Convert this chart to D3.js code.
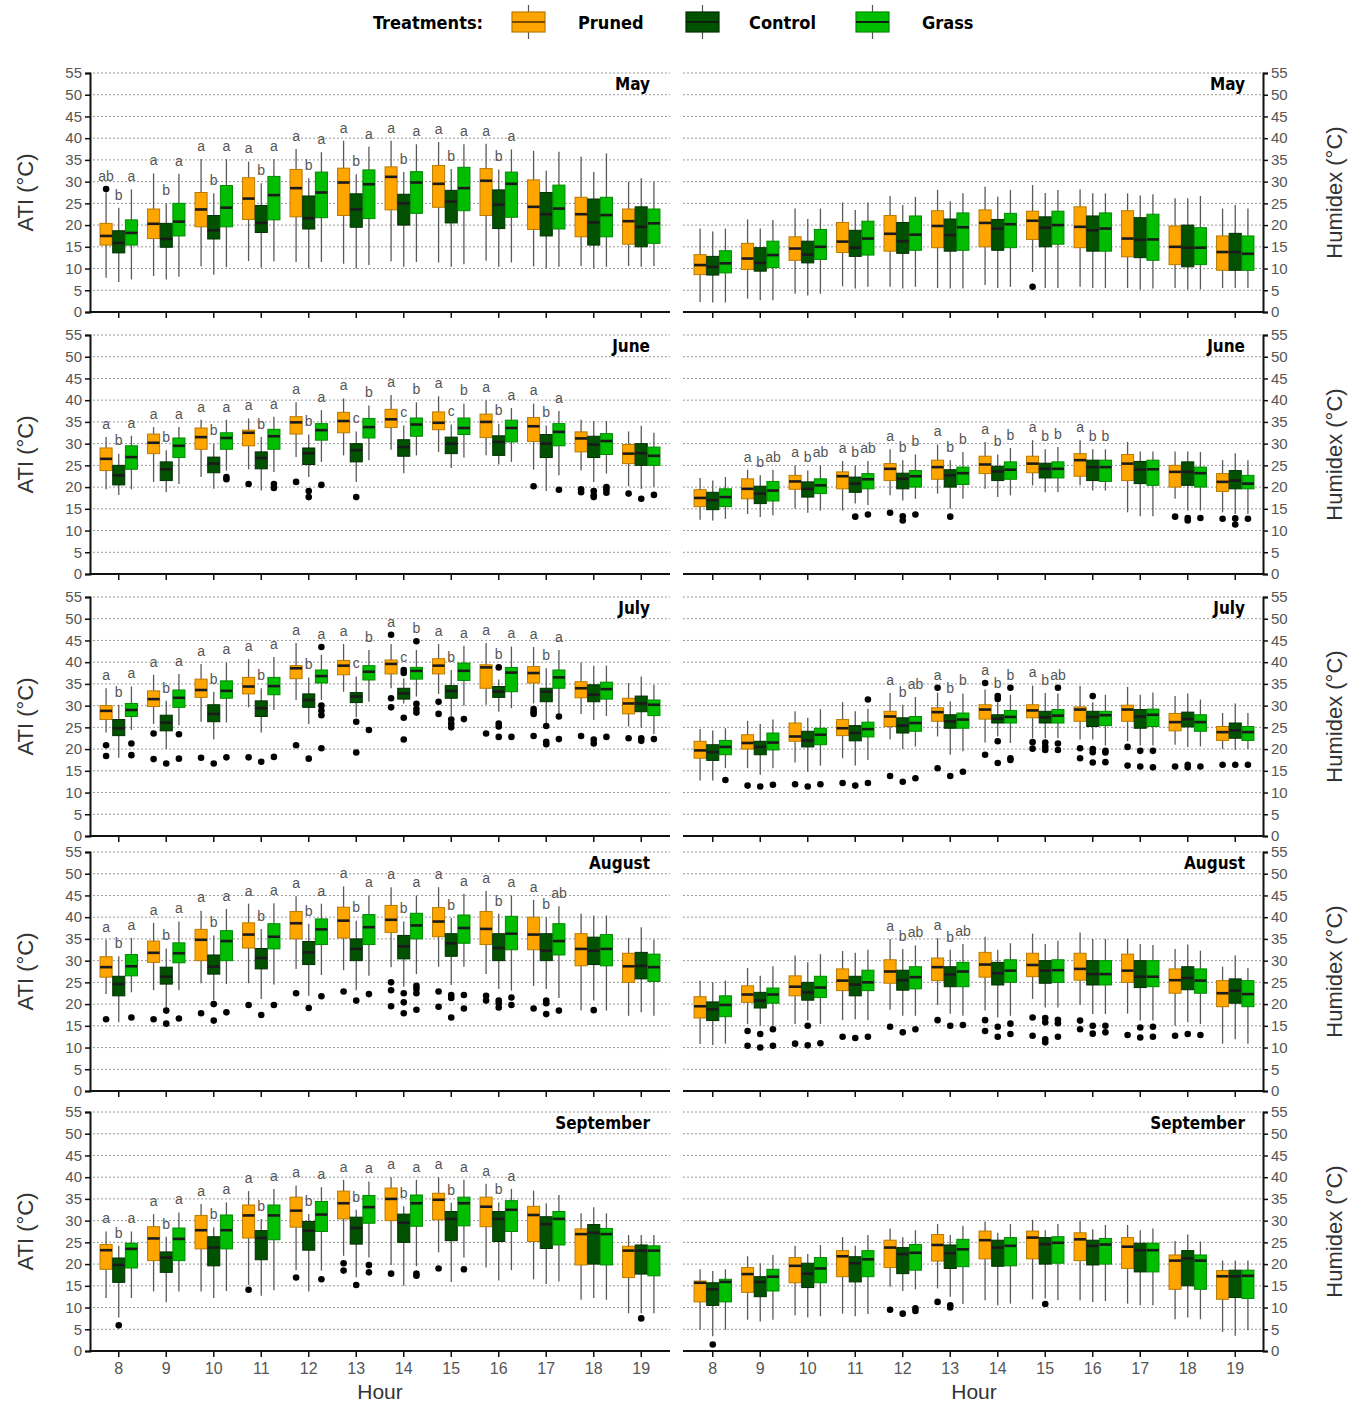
<!DOCTYPE html>
<html>
<head>
<meta charset="utf-8">
<script src="https://cdn.jsdelivr.net/npm/d3@7"></script>
<style>
  body { margin: 0; background: #fff; }
  svg { font-family: "Liberation Sans", Arial, sans-serif; }
</style>
</head>
<body>
<div id="chart"></div>
<script>
const hours = [8, 9, 10, 11, 12, 13, 14, 15, 16, 17, 18, 19];
const treatments = ['Pruned', 'Control', 'Grass'];
const months = ['May', 'June', 'July', 'August', 'September'];

// each row: [low whisker, Q1, median, Q3, high whisker], one row per hour 8..19
// outliers: [hour, treatment index, value]
// letters: 'P C G' per hour, '' when no test letters

// ---- May ----
const mayAtiPruned = [[7.9,15.4,17.5,20.4,27.5],[8.3,16.9,20.3,23.7,31.9],[10.5,19.6,23.6,27.5,35.2],[11.7,21.3,26.1,30.9,34.6],[11.5,21.9,28.5,32.8,37.5],[11.1,22.2,29.8,33.1,39.4],[11.7,23.5,31.1,33.4,39.4],[11.4,24.1,29.5,33.7,39.1],[11.8,22.2,30.2,33,38.7],[10.5,19,24.2,30.4,37.1],[10.6,17.3,22.5,26.4,35.8],[10.6,15.6,20.9,23.7,30]];
const mayAtiControl = [[6.9,13.6,15.9,18.7,24],[7.5,14.9,16.8,20.4,25],[8.6,16.8,18.8,22.2,27.3],[10.2,18.3,20.5,24.5,29.6],[10,19.1,21.6,26.7,30.8],[10,19.5,23.6,27.2,31.7],[10.4,20,25,27.1,32.2],[10.4,20.5,25.4,28,32.9],[10.4,19.2,24.7,28.1,32.8],[10,17.5,22.5,27.5,32.5],[10,15.4,20.6,26,32.2],[10.4,15,19.6,24.2,30.8]];
const mayAtiGrass = [[7.5,15.4,18.2,21.2,28.2],[8.1,17.5,20.8,25,31.8],[10.3,19.6,24,29.1,35.2],[11.7,21.2,26.9,31.2,35.2],[11.5,21.7,27.5,32.2,36.8],[10.8,21.5,29.4,32.7,38],[11.5,22.7,29.8,32.3,38.6],[11,23.3,28.5,33.3,38.6],[11.4,21.8,29.5,32.2,37.4],[10.4,19.1,23.8,29.2,36.9],[10.4,17.3,22.3,26.4,36.5],[10.6,15.8,20.4,23.7,30]];
const mayAtiOut = [[8,0,28.3]];
const mayAtiLetters = ['ab b a','a b a','a b a','a b a','a b a','a b a','a b a','a b a','a b a','','',''];

const mayHumPruned = [[2.3,8.6,10.8,13.2,19.2],[3.1,9.8,12.3,15.8,21.3],[4.2,11.9,14.6,17.3,23.8],[5.9,13.7,16.2,20.6,25.2],[5.8,14,18,22.2,26.7],[5.5,14.8,19.8,23.3,28.1],[6.2,15,20.5,23.5,28.8],[9.2,16.7,21,23.2,29.2],[5.8,14.8,19.6,24.2,28.2],[5.5,12.7,16.9,23.3,27.3],[5.5,10.9,15,19.8,26.2],[5.5,9.6,13.8,17.5,23.8]];
const mayHumControl = [[2.2,8.5,10.4,12.8,18.5],[2.7,9.4,11.3,14.8,19.2],[3.8,11.3,13.2,16.3,21.4],[5.4,12.8,14.8,18.8,23.5],[5.4,13.5,16.3,20.6,24.6],[5.4,14,17.7,21.4,25.5],[5.5,14.2,19.2,21.3,26.5],[5.5,15,19.4,21.9,27.4],[5.5,14,18.8,22.1,27.3],[5.2,12.5,16.6,21.7,26.8],[5.2,10.4,14.8,20,26.2],[5.5,9.6,13.8,18.1,24.6]];
const mayHumGrass = [[2.2,9,11.2,14.1,19.2],[2.7,10.2,13.1,16.3,21.2],[4.2,12.1,15,19,23.8],[5.8,13.1,16.9,20.9,25.2],[5.8,14.2,17.8,22.1,26.5],[5.4,14.2,19.5,22.8,27.3],[5.8,14.8,20.2,22.7,28.1],[5.5,15.6,20,23.2,28.1],[5.5,14,19.2,22.8,27.3],[5.4,11.9,16.7,22.5,27.1],[5.2,10.9,14.8,19.4,26.7],[5.5,9.6,13.4,17.5,23.8]];
const mayHumOut = [[15,0,5.8]];
const mayHumLetters = ['','','','','','','','','','','',''];

// ---- June ----
const juneAtiPruned = [[19.5,23.8,26.5,29,31.5],[21.2,27.7,30.2,32.2,33.8],[22.3,28.7,31.5,33.6,35.5],[24.1,29.5,32.5,33.1,35.8],[26.9,32.2,34.9,36.2,39.5],[27.3,32.5,35.2,37.2,40.4],[28.6,33.7,35.6,37.9,41.2],[28.1,33.2,34.8,37.3,40.9],[27.3,31.4,35,36.8,40],[24,30.5,34,36,39.2],[23.8,28.1,31.2,32.7,35.5],[20.2,25.4,27.7,29.8,32.8]];
const juneAtiControl = [[18.2,20.5,22.7,25,27.7],[18.8,21.5,24.1,25.8,28.5],[19.6,23.3,25.4,26.9,30],[19.2,24.2,26.7,28.1,31.5],[22.3,25.2,27.8,29,32.1],[21.2,25.8,28.5,30,32.8],[23.2,27.1,29.2,30.9,34.2],[24.4,27.7,30,31.5,34.4],[25.2,27.3,30.4,31.8,34.6],[19.1,26.8,30,32.1,34.2],[21.2,26.8,29.8,31.7,35.2],[19.6,25,27.8,30,34.1]];
const juneAtiGrass = [[19.5,24.1,26.9,29.5,31.8],[20.7,26.8,29.5,31.3,33.8],[23.8,28.7,31.3,32.5,35.5],[23.5,28.7,31.7,33.3,36.2],[25.8,30.8,33.1,34.6,37.7],[26.2,31.3,33.8,35.8,38.8],[27.3,31.7,34.4,35.9,39.5],[26.8,32.1,33.6,35.9,39.2],[25.8,30.4,33.6,35.4,38.2],[22.7,29.5,32.7,34.6,37.5],[23.1,27.5,30.6,32.3,35.2],[20,25,27.2,29.2,32.5]];
const juneAtiOut = [[10,2,22.3],[10,2,21.8],[11,0,20.7],[11,2,20.7],[11,2,19.8],[12,0,21.2],[12,1,19.1],[12,1,17.7],[12,2,20.5],[13,1,17.7],[17,0,20.2],[17,2,19.4],[18,0,19.5],[18,0,18.8],[18,1,19.1],[18,1,18.1],[18,1,17.7],[18,2,20],[18,2,19.5],[18,2,18.7],[19,0,18.5],[19,1,17.3],[19,2,18.2]];
const juneAtiLetters = ['a b a','a b a','a b a','a b a','a b a','a c b','a c b','a c b','a b a','a b a','',''];

const juneHumPruned = [[12.5,15.5,17.5,19.4,22.1],[13.8,17.3,19.6,21.9,24],[15,19.5,21.3,22.7,25],[14.6,19.6,22.5,23.5,26],[18.1,21.5,24.2,25.4,28.7],[18.5,21.8,24.6,26.2,29.8],[19.6,23.1,25.2,27.1,30.4],[20.4,23.3,25.4,27.1,30.8],[20.4,22.5,26.2,27.7,30.8],[14.2,21.5,25.4,27.5,30.4],[17.3,20,23.5,25,28.2],[14.2,19,21.2,23.1,26.2]];
const juneHumControl = [[12.3,14.8,17,18.8,21.5],[13.1,16.2,18.5,20.2,22.7],[14.1,17.7,19.6,21.2,23.8],[16.2,18.8,20.8,22.3,25],[16.9,19.6,21.9,23.2,26.2],[15,20,22.7,24,26.2],[17.7,21.5,23.6,24.8,27.5],[18.8,22.1,24.2,25.5,28.7],[19.2,21.5,24.6,26.2,28.7],[13.3,20.8,24,25.9,28.2],[14.6,20.4,23.5,25.8,28.2],[13.8,19.6,21.5,23.8,27.8]];
const juneHumGrass = [[12.7,15.5,17.7,19.6,22.3],[13.5,16.8,19.2,21.3,24],[14.6,18.5,20.4,21.9,25],[15.9,19.6,21.8,23.1,26],[17.3,20,22.5,23.8,27.5],[17.3,20.6,23.2,24.6,28.1],[18.1,21.8,24,25.8,29],[18.8,22.1,24.2,25.8,29.2],[19.2,21.3,24.6,26.2,28.7],[13.3,20.4,24.1,26.2,28.2],[14.6,20,23.2,24.6,28.1],[13.8,19.6,20.8,22.7,26.2]];
const juneHumOut = [[11,1,13.2],[11,2,13.7],[12,0,14.1],[12,1,13.3],[12,1,12.3],[12,2,13.7],[13,1,13.2],[18,0,13.2],[18,1,12.9],[18,1,12.3],[18,2,12.9],[19,0,12.7],[19,1,12.8],[19,1,11.4],[19,2,12.7]];
const juneHumLetters = ['','a b ab','a b ab','a b ab','a b b','a b b','a b b','a b b','a b b','','',''];

// ---- July ----
const julyAtiPruned = [[23.8,26.8,28.8,30,34],[25.8,29.8,31.5,33.4,37.1],[26.3,31.9,33.6,36.1,39.6],[29.6,32.7,34.4,36.5,40.7],[31.3,36.2,38.6,39.2,44.4],[33.2,37.1,39.2,40.4,44.2],[34,37.3,39.6,40.5,44.2],[32.7,37.3,39.2,40.8,44.2],[30.2,34,38.8,39.4,44.4],[30.5,35.2,37.5,39,43.5],[28.1,31.8,34,35.5,39.9],[25.2,28.1,30.5,31.7,35.2]];
const julyAtiControl = [[18,23.1,24.8,26.8,30.2],[20,24.2,26.1,27.8,31.1],[22.2,26.3,28.1,30.2,33.2],[23.8,27.5,29.4,31.1,34],[25.8,29.6,31.3,32.7,36.5],[27.3,30.7,32.1,33,36.7],[30.5,31.5,32.8,34,36.3],[27.6,31.7,33.4,34.6,38.2],[28.6,31.9,33.2,34.4,36],[25.9,30.9,33.2,34,38.6],[26.7,30.9,32.5,34.8,39.2],[24.9,28.6,30.5,32.2,36.7]];
const julyAtiGrass = [[24.4,27.5,29,30.5,34.4],[25.5,29.6,31.8,33.6,37.3],[26.1,31.7,33.4,35.7,39.9],[29,32.5,34.5,36.5,41.2],[31.3,35.2,36.8,38.2,41.7],[30.9,35.9,37.8,39.2,42.8],[32.1,36.1,38,38.8,42.8],[30,35.8,38,39.8,43.8],[29.4,33.2,37.6,38.8,43.6],[28.2,34,36.5,38.2,42.8],[27.6,31.5,33.8,35.4,39.2],[23.5,27.7,30.2,31.3,34.8]];
const julyAtiOut = [[8,0,20.9],[8,0,18.4],[8,2,21.3],[8,2,18.6],[9,0,23.6],[9,0,17.7],[9,1,16.7],[9,2,23.4],[9,2,17.8],[10,0,18],[10,1,16.7],[10,2,18.1],[11,0,18.1],[11,1,17.1],[11,2,18.2],[12,0,20.9],[12,1,17.8],[12,2,43.5],[12,2,30],[12,2,28.8],[12,2,27.8],[12,2,20.2],[13,1,26.3],[13,1,19.2],[13,2,24.4],[14,0,46.3],[14,0,31.7],[14,0,29.6],[14,1,38.2],[14,1,37.5],[14,1,27.2],[14,1,22.2],[14,2,44.8],[14,2,30.4],[14,2,29.2],[14,2,28.4],[15,0,30.9],[15,0,28.1],[15,1,26.8],[15,1,25.9],[15,1,25],[15,2,26.9],[16,0,23.6],[16,1,38.8],[16,1,25.9],[16,1,25.2],[16,1,22.8],[16,2,22.8],[17,0,29.2],[17,0,28.6],[17,0,28.1],[17,0,23],[17,1,25.3],[17,1,21.7],[17,1,21.1],[17,2,27.5],[17,2,22.3],[18,0,23],[18,1,22.2],[18,1,21.3],[18,2,22.8],[19,0,22.5],[19,1,22.5],[19,1,21.9],[19,2,22.3]];
const julyAtiLetters = ['a b a','a b a','a b a','a b a','a b a','a c b','a c b','a b a','a b a','a b a','',''];

const julyHumPruned = [[12.8,17.9,19.7,21.8,24.6],[15.6,20,21.4,23.3,26.5],[16.9,21.8,22.9,26,28.7],[17.9,23.1,24.8,26.8,30.8],[22.2,25.2,27.5,28.7,32.9],[22.9,26.4,28.5,29.5,33],[21.5,26.9,29.1,30.2,33.7],[22.5,27.2,28.9,30.2,34.6],[22.2,26.4,29.1,29.7,34.5],[21.8,26.4,29.1,30.1,34.3],[21,24.2,26.2,28.2,32.2],[20,22,23.9,25.2,28.3]];
const julyHumControl = [[12.8,17.4,19.3,21,24.3],[14.1,18.7,20.5,21.8,25.8],[14.8,20.5,22,24.1,27.2],[16.2,21.9,23.7,25.4,28.7],[20,23.7,25.4,27.2,30.2],[18.7,24.8,26.4,27.9,31],[22.9,26,27,27.9,30.6],[22.5,26,27.3,28.7,32.9],[22.2,25.2,27.4,28.7,30.8],[20.8,24.8,27.5,29.1,32.5],[20.5,25.1,26.9,28.5,32.8],[19.8,22.5,24.3,26,30.5]];
const julyHumGrass = [[15.6,18.7,20.5,22,24.8],[15.6,19.8,21.5,23.7,26.8],[16.2,21,23.3,24.8,29.2],[17.5,22.8,24.6,26.2,29.3],[20.6,24.1,26,27.5,32],[19.5,24.8,26.8,28.3,32.8],[21.4,26,27.4,28.9,32.5],[22.5,26,27.7,29.1,32.8],[20.8,25.4,27.8,28.7,32.5],[20.8,25.2,27.9,29.2,33],[20.6,24.1,26.2,27.9,31.4],[20,22,23.9,25.2,28.3]];
const julyHumOut = [[8,2,12.9],[9,0,11.6],[9,1,11.4],[9,2,11.8],[10,0,11.9],[10,1,11.4],[10,2,11.9],[11,0,12.2],[11,1,11.6],[11,2,31.4],[11,2,12.2],[12,0,13.8],[12,1,12.5],[12,2,13.3],[13,0,34.1],[13,0,15.6],[13,1,13.8],[13,2,14.8],[14,0,35.2],[14,0,18.7],[14,1,32.2],[14,1,31.5],[14,1,21.8],[14,1,16.8],[14,2,34.1],[14,2,17.9],[14,2,17.5],[15,0,21.6],[15,0,20.1],[15,1,21.5],[15,1,20.6],[15,1,19.8],[15,2,34.1],[15,2,21.3],[15,2,19.8],[16,0,20.2],[16,0,17.9],[16,1,32.2],[16,1,20],[16,1,19.3],[16,1,16.9],[16,2,19.6],[16,2,19.2],[16,2,17],[17,0,20.5],[17,0,16.2],[17,1,19.6],[17,1,16],[17,2,19.6],[17,2,15.8],[18,0,16],[18,1,16.4],[18,1,15.8],[18,2,16],[19,0,16.4],[19,1,16.4],[19,2,16.4]];
const julyHumLetters = ['','','','','a b ab','a b b','a b b','a b ab','','','',''];

// ---- August ----
const augAtiPruned = [[22.3,26.2,28.5,30.9,34.8],[23.2,29.6,31.8,34.5,38.7],[24.8,30,34.8,37.2,41.5],[24.8,32.9,36,38.7,43.1],[28.1,35,38.6,41.3,44.8],[27.8,35.2,39.2,42.3,47.1],[28.5,36.5,39.4,42.7,46.9],[28.6,35.5,39,42.2,46.9],[26.9,33.7,37.3,41.3,46],[24.2,32.5,36,40,44],[18.5,28.8,32.7,36.2,40.8],[17.3,25,28.7,31.7,35.2]];
const augAtiControl = [[15.8,21.9,24.6,26.4,31],[19.2,24.6,26.3,28.5,32.8],[20.8,26.9,28.6,31.3,35.8],[21.2,28.1,30.6,32.8,37.3],[21.9,29.1,31.9,34.4,38.5],[23.2,30,32.7,35,39.2],[24,30.4,33.3,35.8,39],[24.4,31,34,36.2,39.8],[23.5,30,32.9,36.2,40.8],[23.5,30,32.3,36.2,40],[20.8,29.1,32.3,35.4,40.4],[18.1,25.8,28.8,31.9,37.7]];
const augAtiGrass = [[22.7,26.5,28.7,31.4,35.2],[23.2,29.5,31.7,34.1,39],[24.6,30,34.5,36.9,41.9],[24.5,32.7,35.5,38.5,43.2],[26.7,33.7,37.2,39.6,43.1],[26.5,33.7,37.7,40.6,45],[26.9,35,38.1,40.9,45],[28.6,34,37.5,40.5,45.4],[23.1,32.5,36.2,40.2,45],[21.4,31.3,34.5,38.5,42.5],[18.5,28.8,32.7,36,40.4],[17.3,25.2,28.5,31.5,34.8]];
const augAtiOut = [[8,0,16.5],[8,2,16.9],[9,0,16.5],[9,1,18.5],[9,1,15.5],[9,2,16.7],[10,0,17.9],[10,1,20],[10,1,16.2],[10,2,18.1],[11,0,19.8],[11,1,17.5],[11,2,19.8],[12,0,22.5],[12,1,19.1],[12,2,21.8],[13,0,22.9],[13,1,20.8],[13,2,22.3],[14,0,25],[14,0,23.2],[14,0,19.5],[14,1,22.5],[14,1,20.4],[14,1,17.9],[14,2,24.2],[14,2,23.5],[14,2,22.5],[14,2,18.7],[15,0,22.9],[15,0,19.4],[15,1,22.1],[15,1,21.4],[15,1,16.9],[15,2,22.1],[15,2,19],[16,0,21.9],[16,0,20.8],[16,1,20.8],[16,1,20.2],[16,1,19.2],[16,2,21.5],[16,2,19.8],[17,0,19],[17,1,20.8],[17,1,20.2],[17,1,17.7],[17,2,18.5],[18,1,18.6]];
const augAtiLetters = ['a b a','a b a','a b a','a b a','a b a','a b a','a b a','a b a','a b a','a b ab','',''];

const augHumPruned = [[10.8,16.8,19.5,21.7,25.4],[15.4,20.4,22.2,24.2,28.3],[15.4,21.9,24,26.5,31.2],[16.3,23.1,25.4,28.1,32.2],[18.7,24.8,27.5,30.2,35],[19.8,25.4,28.5,30.6,35.2],[18.5,26.2,29.1,31.9,35.5],[21.2,26.3,29,31.7,36.2],[19.8,25.5,28.1,31.7,36.5],[17.8,25,27.7,31.5,35],[15,22.5,25.5,28.1,32.7],[10.9,19.4,22.5,25.4,28.6]];
const augHumControl = [[10.6,16.2,18.8,20.5,25],[15,19.1,20.8,22.7,26.5],[16.2,20.9,22.7,25,29.6],[16.5,21.9,24.5,26.4,31.8],[17.3,23.2,25.5,27.8,32.7],[17.8,24,26.8,28.6,32.5],[16.9,24.4,27.1,29.6,32.5],[19.2,24.8,27.7,30,33.8],[17.7,24.4,26.9,30,35],[16.2,23.8,26.3,30,33.8],[15.8,23.3,26,28.6,33.7],[11.9,20.2,23.1,25.8,31.2]];
const augHumGrass = [[10.9,17.1,19.8,21.9,25.4],[15,20.2,22.2,23.7,28.7],[15.4,21.5,23.8,26.4,31.5],[16.3,23.1,25,27.8,32.5],[17.3,23.5,26.2,28.6,33.5],[17.3,24,27.5,29.6,33.8],[17.3,25,27.7,30.2,34],[19.2,25,27.8,30.2,34.6],[17.7,24.4,26.9,30,35],[16.2,24,26.3,30,33.6],[15.4,22.5,25.4,28.1,32.3],[10.9,19.4,22.3,25.4,28.3]];
const augHumOut = [[9,0,13.8],[9,0,10.4],[9,1,13.1],[9,1,10],[9,2,14.2],[9,2,10.4],[10,0,10.9],[10,1,15],[10,1,10.5],[10,2,11],[11,0,12.5],[11,1,12.2],[11,2,12.5],[12,0,14.8],[12,1,13.5],[12,2,14.2],[13,0,16.3],[13,1,15],[13,2,15.2],[14,0,16.3],[14,0,13.8],[14,1,14.8],[14,1,12.5],[14,2,15.5],[14,2,13.1],[15,0,16.9],[15,0,12.7],[15,1,16.8],[15,1,15.8],[15,1,11.9],[15,1,11.2],[15,2,16.4],[15,2,15.6],[15,2,12.5],[16,0,16.2],[16,0,14.2],[16,1,15],[16,1,13.2],[16,2,15],[16,2,13.5],[17,0,12.9],[17,1,14.6],[17,1,12.3],[17,2,14.8],[17,2,12.5],[18,0,12.7],[18,1,13.1],[18,2,12.9]];
const augHumLetters = ['','','','','a b ab','a b ab','','','','','',''];

// ---- September ----
const sepAtiPruned = [[12.2,18.8,23.2,24.5,27.5],[13.7,20.8,25.9,28.6,31.5],[13.7,23.5,27.8,31.2,33.8],[15.2,26,31.2,33.6,36.8],[18.6,28.5,32.3,35.4,38.1],[21.9,30.4,34,36.8,39.4],[19.8,30,35,37.5,40],[22.7,30.2,34.8,36.3,40],[19.2,28.6,33.2,35.4,38.5],[16.5,25.2,31.3,33.3,36.9],[11.8,19.8,26.9,28.1,31.7],[8.7,16.9,23.1,24.1,26.7]];
const sepAtiControl = [[7.7,15.8,19.8,21.4,24.2],[11.2,18.1,21.5,22.8,26.3],[12.2,19.6,23.8,26.3,28.5],[12.7,21,26,27.7,30.4],[13.7,23.2,27.7,29.8,31.5],[17,24.6,28.3,30.8,32.5],[15,25,29.5,31.5,33.3],[15.9,25.4,30.4,32.1,34.1],[16.2,25.2,30.4,32.1,34.2],[15.4,23.6,29.2,30.9,34],[12.2,20,27.2,29.1,33.1],[8.7,17.7,23.1,24.4,26.7]];
const sepAtiGrass = [[12.2,19.1,23.5,24.8,27.5],[13.7,20.8,25.8,28.3,31.9],[13.8,23.5,27.8,31.3,34.2],[14,25.6,31.2,33.6,37.3],[18.5,27.5,31.4,34.4,37.7],[21.5,29.4,33.1,35.8,39],[19.5,28.7,34,35.9,39.4],[21.5,28.8,34,35.4,39.4],[18.6,27.5,32.5,34.6,37.3],[16,24.4,30.4,32.1,35.9],[11.8,19.8,26.9,28.2,31.7],[8.7,17.3,23.1,24.2,26.7]];
const sepAtiOut = [[8,1,5.9],[11,0,14.1],[12,0,16.9],[12,2,16.5],[13,0,20.2],[13,0,18.5],[13,1,15.2],[13,2,19.8],[13,2,18.1],[14,0,17.8],[14,2,17.8],[14,2,17.3],[15,0,19],[15,2,18.8],[19,1,7.5]];
const sepAtiLetters = ['a b a','a b a','a b a','a b a','a b a','a b a','a b a','a b a','a b a','','',''];

const sepHumPruned = [[4.9,11.3,15.7,16.1,18.8],[7.2,13.5,17.7,19.2,21.8],[8.2,15.7,19.6,21.5,24.2],[8.6,17.1,21.8,23.1,26.2],[14.8,19.2,23.8,25.5,28.2],[14.4,20.7,24.4,26.8,29.2],[11.7,21.2,25.5,27.6,29.8],[11.9,21.2,26.1,27.6,30.2],[11.7,20.8,25.7,27.2,29.9],[10.9,19,24,26.1,29],[7.3,14.2,20.8,22.1,25.3],[4.4,11.9,17.2,18.5,20.8]];
const sepHumControl = [[3.4,10.5,14.2,15.7,18.4],[6.8,12.5,15.9,17.1,20.2],[7.7,14.6,17.8,20.2,22.3],[8,15.9,20.2,21.7,24.2],[13.8,17.8,22.3,23.8,26.2],[12.5,19,22.5,24.4,26.7],[10.5,19.5,23.8,25.5,27.2],[12.1,20,24.6,26.1,27.8],[11.3,19.8,24.2,25.5,28],[10.5,18.2,23.2,24.8,27.8],[7.7,15,21.3,23.1,26.8],[3.5,12.3,17.2,18.6,20.8]];
const sepHumGrass = [[4.9,11.3,15.9,16.5,18.8],[7.2,13.8,17.1,18.8,22.1],[8,15.7,19,21.5,24.4],[8.5,17.1,21.1,23.1,26.7],[14.2,18.6,22.6,24.5,27.8],[10.8,19.4,23.4,25.7,28.8],[10.9,19.6,24.2,26.1,29.2],[11.7,20.2,24.9,26.3,29.2],[11.5,20,24.5,25.9,29],[10.5,18.2,23.2,24.8,28.2],[7.3,14.2,20.8,22.1,25.2],[4.8,12.1,17.3,18.6,20.8]];
const sepHumOut = [[8,1,1.5],[12,0,9.5],[12,1,8.6],[12,2,9.8],[12,2,9.2],[13,0,11.3],[13,1,10.5],[13,1,10],[15,1,10.8]];
const sepHumLetters = ['','','','','','','','','','','',''];

const yTicks = [0, 5, 10, 15, 20, 25, 30, 35, 40, 45, 50, 55];

const colors = ['#FFA500', '#005200', '#00BD00'];
const strokes = ['#B87A00', '#003000', '#008A00'];

const panels = [
  {month: 'May', row: 0, side: 'ati', boxes: [mayAtiPruned, mayAtiControl, mayAtiGrass], out: mayAtiOut, letters: mayAtiLetters},
  {month: 'May', row: 0, side: 'hum', boxes: [mayHumPruned, mayHumControl, mayHumGrass], out: mayHumOut, letters: mayHumLetters},
  {month: 'June', row: 1, side: 'ati', boxes: [juneAtiPruned, juneAtiControl, juneAtiGrass], out: juneAtiOut, letters: juneAtiLetters},
  {month: 'June', row: 1, side: 'hum', boxes: [juneHumPruned, juneHumControl, juneHumGrass], out: juneHumOut, letters: juneHumLetters},
  {month: 'July', row: 2, side: 'ati', boxes: [julyAtiPruned, julyAtiControl, julyAtiGrass], out: julyAtiOut, letters: julyAtiLetters},
  {month: 'July', row: 2, side: 'hum', boxes: [julyHumPruned, julyHumControl, julyHumGrass], out: julyHumOut, letters: julyHumLetters},
  {month: 'August', row: 3, side: 'ati', boxes: [augAtiPruned, augAtiControl, augAtiGrass], out: augAtiOut, letters: augAtiLetters},
  {month: 'August', row: 3, side: 'hum', boxes: [augHumPruned, augHumControl, augHumGrass], out: augHumOut, letters: augHumLetters},
  {month: 'September', row: 4, side: 'ati', boxes: [sepAtiPruned, sepAtiControl, sepAtiGrass], out: sepAtiOut, letters: sepAtiLetters},
  {month: 'September', row: 4, side: 'hum', boxes: [sepHumPruned, sepHumControl, sepHumGrass], out: sepHumOut, letters: sepHumLetters}
];

// layout
const width = 1357;
const height = 1402;
const rowTops = [73, 335, 597, 852, 1112];
const panelH = 239;
const sides = {
  ati: {x0: 95, x1: 665, axisX: 90, lineX0: 89, lineX1: 670, labelX: 650, title: 'ATI (°C)', titleX: 25},
  hum: {x0: 689, x1: 1259, axisX: 1263, lineX0: 683, lineX1: 1264, labelX: 1245, title: 'Humidex (°C)', titleX: 1334}
};
const condensed = '"DejaVu Sans Condensed", "Liberation Sans Narrow", sans-serif';

const svg = d3.select('#chart').append('svg')
  .attr('width', width)
  .attr('height', height);

// legend
const legend = svg.append('g').attr('class', 'legend');
legend.append('text')
  .attr('x', 483).attr('y', 29)
  .attr('text-anchor', 'end')
  .style('font-family', condensed)
  .style('font-weight', 'bold')
  .style('font-size', '18px')
  .text('Treatments:');
const keyX = [512, 686, 856];
const keyLabelX = [578, 749, 922];
treatments.forEach(function(t, i) {
  const k = legend.append('g');
  k.append('line')
    .attr('x1', keyX[i] + 16.5).attr('x2', keyX[i] + 16.5)
    .attr('y1', 5).attr('y2', 39)
    .attr('stroke', '#555').attr('stroke-width', 1.2);
  k.append('rect')
    .attr('x', keyX[i]).attr('y', 12)
    .attr('width', 33).attr('height', 20)
    .attr('fill', colors[i]).attr('stroke', strokes[i]).attr('stroke-width', 1.2);
  k.append('line')
    .attr('x1', keyX[i]).attr('x2', keyX[i] + 33)
    .attr('y1', 22).attr('y2', 22)
    .attr('stroke', i === 0 ? '#7a4a00' : '#0b1f0b').attr('stroke-width', 2);
  k.append('text')
    .attr('x', keyLabelX[i]).attr('y', 29)
    .style('font-family', condensed)
    .style('font-weight', 'bold')
    .style('font-size', '18px')
    .text(t);
});

function drawPanel(p) {
  const s = sides[p.side];
  const top = rowTops[p.row];
  const bottom = top + panelH;
  const g = svg.append('g').attr('class', 'panel');

  const y = d3.scaleLinear().domain([0, 55]).range([bottom, top]);
  const x = d3.scaleBand().domain(hours).range([s.x0, s.x1]);
  const xt = d3.scaleBand().domain([0, 1, 2])
    .range([x.bandwidth() * 0.1, x.bandwidth() * 0.9]);
  const bw = xt.bandwidth() - 0.6;
  const cx = function(h, t) { return x(h) + xt(t) + xt.bandwidth() / 2; };

  // dotted grid
  g.append('g').selectAll('line')
    .data(yTicks.filter(function(v) { return v > 0; }))
    .enter().append('line')
    .attr('x1', s.lineX0).attr('x2', s.lineX1)
    .attr('y1', function(d) { return y(d); })
    .attr('y2', function(d) { return y(d); })
    .attr('stroke', '#9a9a9a')
    .attr('stroke-width', 1)
    .attr('stroke-dasharray', '2,2');

  // boxes
  p.boxes.forEach(function(series, t) {
    const bg = g.append('g');
    const rows = series.map(function(d, j) { return {h: hours[j], v: d}; });
    bg.selectAll('line.whisker')
      .data(rows).enter().append('line')
      .attr('class', 'whisker')
      .attr('x1', function(d) { return cx(d.h, t); })
      .attr('x2', function(d) { return cx(d.h, t); })
      .attr('y1', function(d) { return y(d.v[0]); })
      .attr('y2', function(d) { return y(d.v[4]); })
      .attr('stroke', '#5a5a5a')
      .attr('stroke-width', 1.3);
    bg.selectAll('rect')
      .data(rows).enter().append('rect')
      .attr('x', function(d) { return cx(d.h, t) - bw / 2; })
      .attr('y', function(d) { return y(d.v[3]); })
      .attr('width', bw)
      .attr('height', function(d) { return y(d.v[1]) - y(d.v[3]); })
      .attr('fill', colors[t])
      .attr('stroke', strokes[t])
      .attr('stroke-width', 1);
    bg.selectAll('line.median')
      .data(rows).enter().append('line')
      .attr('class', 'median')
      .attr('x1', function(d) { return cx(d.h, t) - bw / 2; })
      .attr('x2', function(d) { return cx(d.h, t) + bw / 2; })
      .attr('y1', function(d) { return y(d.v[2]); })
      .attr('y2', function(d) { return y(d.v[2]); })
      .attr('stroke', '#1a1a1a')
      .attr('stroke-width', 2.6);
  });

  // outliers
  g.append('g').selectAll('circle')
    .data(p.out).enter().append('circle')
    .attr('cx', function(d) { return cx(d[0], d[1]); })
    .attr('cy', function(d) { return y(d[2]); })
    .attr('r', 3.3)
    .attr('fill', '#000');

  // significance letters, just above the highest point of each box
  const letterData = [];
  p.letters.forEach(function(str, j) {
    if (!str) return;
    str.split(' ').forEach(function(l, t) {
      let top = p.boxes[t][j][4];
      p.out.forEach(function(o) {
        if (o[0] === hours[j] && o[1] === t && o[2] > top) top = o[2];
      });
      letterData.push({h: hours[j], t: t, label: l, top: top});
    });
  });
  g.append('g').selectAll('text')
    .data(letterData).enter().append('text')
    .attr('x', function(d) { return cx(d.h, d.t); })
    .attr('y', function(d) { return y(d.top + 2.8) + 4; })
    .attr('text-anchor', 'middle')
    .attr('fill', '#555')
    .style('font-size', '14px')
    .text(function(d) { return d.label; });

  // y axis
  const yAxis = (p.side === 'ati' ? d3.axisLeft(y) : d3.axisRight(y))
    .tickValues(yTicks).tickSize(5).tickPadding(3);
  const ya = g.append('g')
    .attr('transform', 'translate(' + s.axisX + ',0)')
    .call(yAxis);
  ya.select('.domain').attr('stroke', '#111').attr('stroke-width', 2);
  ya.selectAll('.tick line').attr('stroke', '#111').attr('stroke-width', 1.5);
  ya.selectAll('.tick text').attr('fill', '#555').style('font-size', '15px');

  // x axis
  const isBottom = p.row === rowTops.length - 1;
  const xAxis = d3.axisBottom(x).tickSize(6).tickPadding(6)
    .tickFormat(isBottom ? d3.format('d') : function() { return ''; });
  const xa = g.append('g')
    .attr('transform', 'translate(0,' + bottom + ')')
    .call(xAxis);
  xa.select('.domain').remove();
  xa.selectAll('.tick line').attr('stroke', '#111').attr('stroke-width', 1.5);
  xa.selectAll('.tick text').attr('fill', '#555').style('font-size', '16px');
  g.append('line')
    .attr('x1', s.lineX0).attr('x2', s.lineX1)
    .attr('y1', bottom).attr('y2', bottom)
    .attr('stroke', '#111').attr('stroke-width', 2);

  // month label
  g.append('text')
    .attr('x', s.labelX).attr('y', top + 17)
    .attr('text-anchor', 'end')
    .style('font-family', condensed)
    .style('font-weight', 'bold')
    .style('font-size', '17px')
    .text(p.month);

  // axis title, read bottom to top on both sides
  const cy = top + panelH / 2;
  g.append('text')
    .attr('transform', 'translate(' + s.titleX + ',' + cy + ') rotate(-90)')
    .attr('text-anchor', 'middle')
    .attr('dy', '0.35em')
    .attr('fill', '#333')
    .style('font-size', '22px')
    .text(s.title);

  if (isBottom) {
    g.append('text')
      .attr('x', (s.x0 + s.x1) / 2).attr('y', 1399)
      .attr('text-anchor', 'middle')
      .attr('fill', '#333')
      .style('font-size', '21px')
      .text('Hour');
  }
}

panels.forEach(drawPanel);
</script>
</body>
</html>
